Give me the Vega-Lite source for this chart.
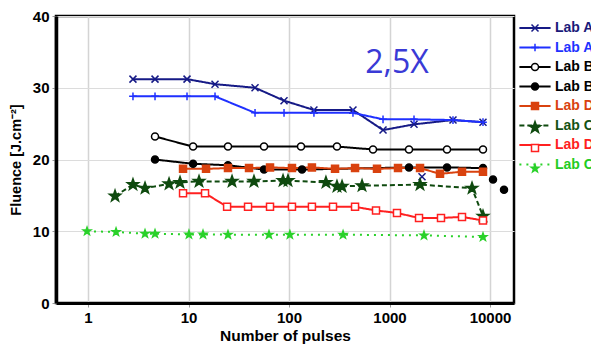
{
  "$schema": "https://vega.github.io/schema/vega-lite/v6.json",
  "width": 458,
  "height": 287,
  "autosize": "none",
  "padding": {"left": 56, "top": 16, "right": 77, "bottom": 42},
  "background": "white",
  "config": {
    "view": {"stroke": "black", "strokeWidth": 2.5},
    "font": "Liberation Sans"
  },
  "datasets": {
    "pts": [
      {"s": "Lab A1", "n": 2.8, "f": 31.2, "lined": true},
      {"s": "Lab A1", "n": 4.64, "f": 31.2, "lined": true},
      {"s": "Lab A1", "n": 9.66, "f": 31.2, "lined": true},
      {"s": "Lab A1", "n": 18.35, "f": 30.5, "lined": true},
      {"s": "Lab A1", "n": 45.9, "f": 30.0, "lined": true},
      {"s": "Lab A1", "n": 89.2, "f": 28.2, "lined": true},
      {"s": "Lab A1", "n": 177, "f": 26.9, "lined": true},
      {"s": "Lab A1", "n": 433, "f": 26.9, "lined": true},
      {"s": "Lab A1", "n": 862, "f": 24.1, "lined": true},
      {"s": "Lab A1", "n": 1753, "f": 24.9, "lined": true},
      {"s": "Lab A1", "n": 4283, "f": 25.5, "lined": true},
      {"s": "Lab A1", "n": 8517, "f": 25.2, "lined": true},
      {"s": "Lab A1", "n": 2106, "f": 17.6, "lined": false},
      {"s": "Lab A2", "n": 2.8, "f": 28.8, "lined": true},
      {"s": "Lab A2", "n": 4.64, "f": 28.8, "lined": true},
      {"s": "Lab A2", "n": 9.66, "f": 28.8, "lined": true},
      {"s": "Lab A2", "n": 18.35, "f": 28.8, "lined": true},
      {"s": "Lab A2", "n": 45.9, "f": 26.5, "lined": true},
      {"s": "Lab A2", "n": 89.2, "f": 26.5, "lined": true},
      {"s": "Lab A2", "n": 177, "f": 26.5, "lined": true},
      {"s": "Lab A2", "n": 433, "f": 26.5, "lined": true},
      {"s": "Lab A2", "n": 862, "f": 25.6, "lined": true},
      {"s": "Lab A2", "n": 1753, "f": 25.6, "lined": true},
      {"s": "Lab A2", "n": 4283, "f": 25.5, "lined": true},
      {"s": "Lab A2", "n": 8517, "f": 25.2, "lined": true},
      {"s": "Lab B1", "n": 4.64, "f": 23.2, "lined": true},
      {"s": "Lab B1", "n": 11.1, "f": 21.8, "lined": true},
      {"s": "Lab B1", "n": 24.7, "f": 21.8, "lined": true},
      {"s": "Lab B1", "n": 56.4, "f": 21.8, "lined": true},
      {"s": "Lab B1", "n": 131.6, "f": 21.8, "lined": true},
      {"s": "Lab B1", "n": 300, "f": 21.8, "lined": true},
      {"s": "Lab B1", "n": 685, "f": 21.4, "lined": true},
      {"s": "Lab B1", "n": 1563, "f": 21.4, "lined": true},
      {"s": "Lab B1", "n": 3733, "f": 21.4, "lined": true},
      {"s": "Lab B1", "n": 8517, "f": 21.4, "lined": true},
      {"s": "Lab B2", "n": 4.64, "f": 20.0, "lined": true},
      {"s": "Lab B2", "n": 11.1, "f": 19.4, "lined": true},
      {"s": "Lab B2", "n": 24.7, "f": 19.2, "lined": true},
      {"s": "Lab B2", "n": 56.4, "f": 18.6, "lined": true},
      {"s": "Lab B2", "n": 134.7, "f": 18.6, "lined": true},
      {"s": "Lab B2", "n": 1563, "f": 18.9, "lined": true},
      {"s": "Lab B2", "n": 3733, "f": 18.9, "lined": true},
      {"s": "Lab B2", "n": 8517, "f": 18.8, "lined": true},
      {"s": "Lab B2", "n": 10715, "f": 17.2, "lined": false},
      {"s": "Lab B2", "n": 13783, "f": 15.8, "lined": false},
      {"s": "Lab D1", "n": 8.82, "f": 18.7, "lined": true},
      {"s": "Lab D1", "n": 14.94, "f": 18.7, "lined": true},
      {"s": "Lab D1", "n": 24.7, "f": 18.8, "lined": true},
      {"s": "Lab D1", "n": 40.0, "f": 18.8, "lined": true},
      {"s": "Lab D1", "n": 64.7, "f": 18.9, "lined": true},
      {"s": "Lab D1", "n": 107, "f": 18.8, "lined": true},
      {"s": "Lab D1", "n": 169, "f": 18.9, "lined": true},
      {"s": "Lab D1", "n": 287, "f": 18.7, "lined": true},
      {"s": "Lab D1", "n": 454, "f": 18.8, "lined": true},
      {"s": "Lab D1", "n": 751, "f": 18.7, "lined": true},
      {"s": "Lab D1", "n": 1215, "f": 18.8, "lined": true},
      {"s": "Lab D1", "n": 2012, "f": 18.8, "lined": true},
      {"s": "Lab D1", "n": 3180, "f": 18.0, "lined": true},
      {"s": "Lab D1", "n": 5265, "f": 18.3, "lined": true},
      {"s": "Lab D1", "n": 8517, "f": 18.3, "lined": true},
      {"s": "Lab C1", "n": 1.857, "f": 14.9, "lined": true},
      {"s": "Lab C1", "n": 2.8, "f": 16.5, "lined": true},
      {"s": "Lab C1", "n": 3.69, "f": 16.0, "lined": true},
      {"s": "Lab C1", "n": 6.4, "f": 16.6, "lined": true},
      {"s": "Lab C1", "n": 8.23, "f": 16.8, "lined": true},
      {"s": "Lab C1", "n": 12.72, "f": 16.95, "lined": true},
      {"s": "Lab C1", "n": 27.1, "f": 16.95, "lined": true},
      {"s": "Lab C1", "n": 44.8, "f": 16.95, "lined": true},
      {"s": "Lab C1", "n": 87.2, "f": 17.05, "lined": true},
      {"s": "Lab C1", "n": 97.7, "f": 17.05, "lined": true},
      {"s": "Lab C1", "n": 233, "f": 16.8, "lined": true},
      {"s": "Lab C1", "n": 300, "f": 16.25, "lined": true},
      {"s": "Lab C1", "n": 337, "f": 16.25, "lined": true},
      {"s": "Lab C1", "n": 533, "f": 16.35, "lined": true},
      {"s": "Lab C1", "n": 2012, "f": 16.5, "lined": true},
      {"s": "Lab C1", "n": 6622, "f": 16.0, "lined": true},
      {"s": "Lab C1", "n": 8517, "f": 12.1, "lined": true},
      {"s": "Lab D2", "n": 8.82, "f": 15.3, "lined": true},
      {"s": "Lab D2", "n": 14.6, "f": 15.3, "lined": true},
      {"s": "Lab D2", "n": 24.2, "f": 13.4, "lined": true},
      {"s": "Lab D2", "n": 39.1, "f": 13.4, "lined": true},
      {"s": "Lab D2", "n": 64.7, "f": 13.4, "lined": true},
      {"s": "Lab D2", "n": 107, "f": 13.4, "lined": true},
      {"s": "Lab D2", "n": 169, "f": 13.4, "lined": true},
      {"s": "Lab D2", "n": 274, "f": 13.4, "lined": true},
      {"s": "Lab D2", "n": 454, "f": 13.4, "lined": true},
      {"s": "Lab D2", "n": 734, "f": 12.9, "lined": true},
      {"s": "Lab D2", "n": 1187, "f": 12.55, "lined": true},
      {"s": "Lab D2", "n": 1966, "f": 11.85, "lined": true},
      {"s": "Lab D2", "n": 3253, "f": 11.85, "lined": true},
      {"s": "Lab D2", "n": 5265, "f": 12.0, "lined": true},
      {"s": "Lab D2", "n": 8517, "f": 11.5, "lined": true},
      {"s": "Lab C2", "n": 0.977, "f": 10.0, "lined": true},
      {"s": "Lab C2", "n": 1.9, "f": 9.9, "lined": true},
      {"s": "Lab C2", "n": 3.69, "f": 9.66, "lined": true},
      {"s": "Lab C2", "n": 4.64, "f": 9.66, "lined": true},
      {"s": "Lab C2", "n": 10.1, "f": 9.56, "lined": true},
      {"s": "Lab C2", "n": 13.94, "f": 9.56, "lined": true},
      {"s": "Lab C2", "n": 24.7, "f": 9.52, "lined": true},
      {"s": "Lab C2", "n": 63.2, "f": 9.52, "lined": true},
      {"s": "Lab C2", "n": 102, "f": 9.52, "lined": true},
      {"s": "Lab C2", "n": 345, "f": 9.52, "lined": true},
      {"s": "Lab C2", "n": 2205, "f": 9.42, "lined": true},
      {"s": "Lab C2", "n": 8517, "f": 9.2, "lined": true}
    ]
  },
  "resolve": {
    "scale": {"stroke": "independent", "strokeDash": "independent", "fill": "independent", "shape": "independent"},
    "legend": {"stroke": "independent", "strokeDash": "independent", "fill": "independent", "shape": "independent"}
  },
  "encoding": {
    "x": {
      "field": "n", "type": "quantitative",
      "scale": {"type": "log", "domain": [0.48, 17330], "nice": false},
      "axis": {
        "values": [1, 10, 100, 1000, 10000], "format": "d",
        "title": "Number of pulses", "titleFontSize": 15.5, "titleFontWeight": "bold", "titleColor": "black", "titlePadding": 3,
        "labelFontSize": 15, "labelFontWeight": "bold", "labelColor": "black", "labelPadding": 3,
        "domainColor": "black", "domainWidth": 3, "tickColor": "#999", "tickSize": 4,
        "grid": true, "gridColor": "#d4d4d4", "gridWidth": 1.5
      }
    },
    "y": {
      "field": "f", "type": "quantitative",
      "scale": {"domain": [0, 40], "nice": false},
      "axis": {
        "values": [0, 10, 20, 30, 40],
        "title": "Fluence [J.cm⁻²]", "titleFontSize": 14.5, "titleFontWeight": "bold", "titleColor": "black", "titlePadding": 9,
        "labelFontSize": 15, "labelFontWeight": "bold", "labelColor": "black", "labelPadding": 3,
        "domainColor": "black", "domainWidth": 3.5, "tickColor": "#999", "tickSize": 4,
        "grid": true, "gridColor": "#dcdcdc", "gridWidth": 1
      }
    }
  },
  "layer": [
    {
      "data": {"name": "pts"},
      "transform": [{"filter": "datum.lined"}],
      "mark": {"type": "line", "strokeWidth": 2},
      "encoding": {
        "detail": {"field": "s"},
        "stroke": {
          "field": "s", "type": "nominal",
          "scale": {
            "domain": ["Lab A1", "Lab A2", "Lab B1", "Lab B2", "Lab D1", "Lab C1", "Lab D2", "Lab C2"],
            "range": ["#161a86", "#1f30ff", "#000000", "#000000", "#d9420f", "#0f4a0f", "#ff2020", "#2ad12a"]
          },
          "legend": {
            "orient": "none", "legendX": 472, "legendY": 5, "title": null,
            "symbolType": "M-2.6,0H2.6", "symbolSize": 144, "symbolStrokeWidth": 2,
            "labelFont": "Liberation Sans", "labelFontSize": 14, "labelFontWeight": "bold",
            "labelOffset": 13, "rowPadding": 5.5,
            "encode": {
              "labels": {"update": {"fill": {"signal": "['#1a1a7a','#1f33ff','#000000','#000000','#d9420f','#145214','#ff2020','#22cc22'][indexof(['Lab A1','Lab A2','Lab B1','Lab B2','Lab D1','Lab C1','Lab D2','Lab C2'], datum.value)]"}}}
            }
          }
        },
        "strokeDash": {
          "field": "s", "type": "nominal",
          "scale": {
            "domain": ["Lab A1", "Lab A2", "Lab B1", "Lab B2", "Lab D1", "Lab C1", "Lab D2", "Lab C2"],
            "range": [[1, 0], [1, 0], [1, 0], [1, 0], [1, 0], [5, 3], [1, 0], [2, 5]]
          },
          "legend": {
            "orient": "none", "legendX": 472, "legendY": 5, "title": null,
            "symbolType": "M-2.6,0H2.6", "symbolSize": 144, "symbolStrokeWidth": 2,
            "labelFont": "Liberation Sans", "labelFontSize": 14, "labelFontWeight": "bold",
            "labelOffset": 13, "rowPadding": 5.5
          }
        }
      }
    },
    {
      "data": {"name": "pts"},
      "mark": {"type": "point", "filled": true, "size": 49, "strokeWidth": 1.5, "opacity": 1},
      "encoding": {
        "stroke": {
          "field": "s", "type": "nominal",
          "scale": {
            "domain": ["Lab A1", "Lab A2", "Lab B1", "Lab B2", "Lab D1", "Lab C1", "Lab D2", "Lab C2"],
            "range": ["#161a86", "#1f30ff", "#000000", "#000000", "#d9420f", "#0f4a0f", "#ff2020", "#2ad12a"]
          },
          "legend": {
            "orient": "none", "legendX": 472, "legendY": 5, "title": null,
            "symbolSize": 49, "symbolStrokeWidth": 1.5,
            "labelFont": "Liberation Sans", "labelFontSize": 14, "labelFontWeight": "bold",
            "labelOffset": 13, "rowPadding": 5.5, "labelExpr": "''"
          }
        },
        "fill": {
          "field": "s", "type": "nominal",
          "scale": {
            "domain": ["Lab A1", "Lab A2", "Lab B1", "Lab B2", "Lab D1", "Lab C1", "Lab D2", "Lab C2"],
            "range": ["#161a86", "#1f30ff", "#ffffff", "#000000", "#d9420f", "#0f4a0f", "#ffffff", "#2ad12a"]
          },
          "legend": {
            "orient": "none", "legendX": 472, "legendY": 5, "title": null,
            "symbolSize": 49, "symbolStrokeWidth": 1.5,
            "labelFont": "Liberation Sans", "labelFontSize": 14, "labelFontWeight": "bold",
            "labelOffset": 13, "rowPadding": 5.5, "labelExpr": "''"
          }
        },
        "shape": {
          "field": "s", "type": "nominal",
          "scale": {
            "domain": ["Lab A1", "Lab A2", "Lab B1", "Lab B2", "Lab D1", "Lab C1", "Lab D2", "Lab C2"],
            "range": [
              "M-1,-1L1,1M-1,1L1,-1",
              "M-1.1,0H1.1M0,-1.1V1.1",
              "circle",
              "circle",
              "square",
              "M0,-1.7L0.4,-0.551L1.617,-0.525L0.646,0.211L1,1.375L0,0.68L-1,1.375L-0.646,0.211L-1.617,-0.525L-0.4,-0.551Z",
              "square",
              "M0,-1.15L0.27,-0.373L1.094,-0.355L0.437,0.143L0.676,0.93L0,0.46L-0.676,0.93L-0.437,0.143L-1.094,-0.355L-0.27,-0.373Z"
            ]
          },
          "legend": {
            "orient": "none", "legendX": 472, "legendY": 5, "title": null,
            "symbolSize": 49, "symbolStrokeWidth": 1.5,
            "labelFont": "Liberation Sans", "labelFontSize": 14, "labelFontWeight": "bold",
            "labelOffset": 13, "rowPadding": 5.5, "labelExpr": "''"
          }
        }
      }
    },
    {
      "data": {"values": [{"n": 1187, "f": 33.5, "t": "2,5X"}]},
      "mark": {"type": "text", "font": "Open Sans", "fontSize": 32, "color": "#3a3ad6", "align": "center", "baseline": "middle"},
      "encoding": {"text": {"field": "t"}}
    }
  ]
}
